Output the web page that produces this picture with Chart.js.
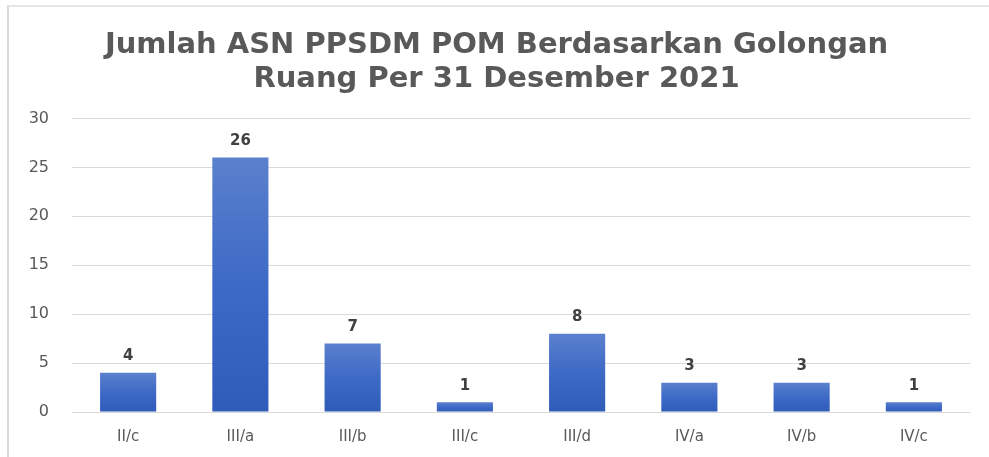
<!DOCTYPE html>
<html>
<head>
<meta charset="utf-8">
<script src="https://cdn.jsdelivr.net/npm/chart.js@4.4.0/dist/chart.umd.min.js"></script>
<style>
html,body{margin:0;padding:0;background:#fff;}
#wrap{position:absolute;left:0;top:0;width:989px;height:457px;}
#frame{position:absolute;left:7px;top:5px;width:990px;height:460px;border-left:2px solid #d9d9d9;border-top:2px solid #e6e6e6;}
canvas{position:absolute;left:0;top:0;}
</style>
</head>
<body>
<div id="wrap"><div id="frame"></div><canvas id="c" width="989" height="457"></canvas></div>
<script>
const titleLines = ["Jumlah ASN PPSDM POM Berdasarkan Golongan", "Ruang Per 31 Desember 2021"];
const categories = ["II/c", "III/a", "III/b", "III/c", "III/d", "IV/a", "IV/b", "IV/c"];
const values = [4, 26, 7, 1, 8, 3, 3, 1];
const yTicks = [0, 5, 10, 15, 20, 25, 30];

const FONT = "'DejaVu Sans', sans-serif";

const dataLabels = {
  id: 'dataLabels',
  afterDatasetsDraw(chart) {
    const ctx = chart.ctx;
    const meta = chart.getDatasetMeta(0);
    ctx.save();
    ctx.font = "bold 15px " + FONT;
    ctx.fillStyle = '#404040';
    ctx.textAlign = 'center';
    ctx.textBaseline = 'bottom';
    meta.data.forEach((bar, i) => {
      ctx.fillText(String(values[i]), bar.x, bar.y - 9);
    });
    ctx.restore();
  }
};

function barGradient(context) {
  const chart = context.chart;
  const area = chart.chartArea;
  if (!area || context.dataIndex === undefined) return '#3A67C4';
  const ys = chart.scales.y;
  const top = ys.getPixelForValue(values[context.dataIndex]);
  const base = ys.getPixelForValue(0);
  const g = chart.ctx.createLinearGradient(0, top, 0, base);
  g.addColorStop(0, '#5B80CD');
  g.addColorStop(0.5, '#3D6AC6');
  g.addColorStop(1, '#2E5CB8');
  return g;
}

new Chart(document.getElementById('c'), {
  type: 'bar',
  data: {
    labels: categories,
    datasets: [{
      data: values,
      backgroundColor: barGradient,
      borderWidth: 0,
      barPercentage: 0.5,
      categoryPercentage: 1.0
    }]
  },
  options: {
    responsive: false,
    animation: false,
    devicePixelRatio: 1,
    layout: { padding: { left: 23, right: 19, top: 8, bottom: 0 } },
    plugins: {
      legend: { display: false },
      tooltip: { enabled: false },
      title: {
        display: true,
        text: titleLines,
        color: '#595959',
        font: { family: FONT, size: 29, weight: 'bold', lineHeight: 1.18 },
        padding: { top: 20, bottom: 22 }
      }
    },
    scales: {
      x: {
        afterFit(scale) { scale.height = 45; },
        grid: { display: false, drawTicks: false },
        border: { display: false },
        ticks: { color: '#595959', font: { family: FONT, size: 15 }, padding: 16 }
      },
      y: {
        min: 0, max: 30,
        afterFit(scale) { scale.width = 49; },
        afterBuildTicks(scale) { scale.ticks = yTicks.map(v => ({ value: v })); },
        grid: { color: '#d9d9d9', lineWidth: 1, drawTicks: false },
        border: { display: false },
        ticks: { color: '#595959', font: { family: FONT, size: 16 }, padding: 23 }
      }
    }
  },
  plugins: [dataLabels]
});
</script>
</body>
</html>
